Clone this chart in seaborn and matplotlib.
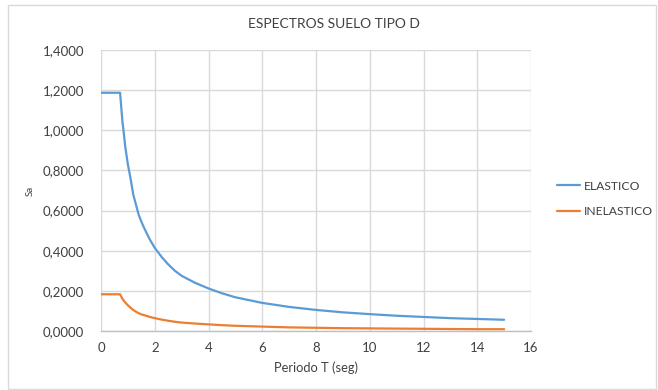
import numpy as np
import pandas as pd
import matplotlib
matplotlib.use("Agg")
import matplotlib.pyplot as plt
from matplotlib.patches import Rectangle
import seaborn as sns

# --- datos ---
periodo = [0.0, 0.71, 0.75, 0.8, 0.85, 0.9, 1.0, 1.1, 1.2, 1.3, 1.4, 1.5, 1.6,
           1.8, 2.0, 2.25, 2.5, 2.75, 3.0, 3.5, 4.0, 4.5, 5.0, 6.0, 7.0, 8.0,
           9.0, 10.0, 11.0, 12.0, 13.0, 14.0, 15.0]
sa_elastico = [1.187, 1.187, 1.12, 1.04, 0.985, 0.92, 0.83, 0.76, 0.68, 0.63,
               0.58, 0.545, 0.515, 0.46, 0.414, 0.37, 0.332, 0.30, 0.275,
               0.24, 0.212, 0.188, 0.168, 0.140, 0.120, 0.105, 0.093, 0.084,
               0.076, 0.070, 0.064, 0.060, 0.056]
sa_inelastico = [0.183, 0.183, 0.172, 0.160, 0.151, 0.142, 0.128, 0.116,
                 0.105, 0.096, 0.089, 0.083, 0.079, 0.071, 0.064, 0.057,
                 0.051, 0.046, 0.042, 0.037, 0.033, 0.029, 0.026, 0.022,
                 0.018, 0.016, 0.014, 0.013, 0.012, 0.011, 0.010, 0.009,
                 0.009]
series = ["ELASTICO", "INELASTICO"]
colores = ["#5B9BD5", "#ED7D31"]
x_ticks = [0, 2, 4, 6, 8, 10, 12, 14, 16]
y_ticks = [0.0, 0.2, 0.4, 0.6, 0.8, 1.0, 1.2, 1.4]

df = pd.concat([
    pd.DataFrame({"T": periodo, "Sa": sa_elastico, "serie": series[0]}),
    pd.DataFrame({"T": periodo, "Sa": sa_inelastico, "serie": series[1]}),
])

sns.set_theme(style="white")
plt.rcParams["font.family"] = ["Lato", "DejaVu Sans"]
texto = "#404040"

fig = plt.figure(figsize=(6.58, 3.9), dpi=100)
ax = fig.add_axes([101 / 658, 1 - 331 / 390, 430 / 658, 281 / 390])

sns.lineplot(data=df, x="T", y="Sa", hue="serie", palette=colores,
             linewidth=1.6, ax=ax, legend=True)

ax.set_xlim(0, 16)
ax.set_ylim(0, 1.4)
ax.set_xticks(x_ticks)
ax.set_yticks(y_ticks)
ax.set_xticklabels([str(t) for t in x_ticks])
ax.set_yticklabels([f"{v:.4f}".replace(".", ",") for v in y_ticks])
ax.tick_params(axis="both", length=0, labelsize=9.5, labelcolor=texto)
ax.tick_params(axis="x", pad=8)
ax.tick_params(axis="y", pad=12)
ax.grid(True, color="#D9D9D9", linewidth=1)
ax.set_axisbelow(True)
for lado in ["top", "right", "left"]:
    ax.spines[lado].set_visible(False)
ax.spines["bottom"].set_color("#BFBFBF")
ax.spines["bottom"].set_linewidth(1)

ax.set_xlabel("Periodo T (seg)", fontsize=9.3, color=texto, labelpad=5)
ax.set_ylabel("Sa", fontsize=7, color=texto, labelpad=6)
# titulo centrado en la figura, como en Excel
fig.text(334 / 658, 1 - 24 / 390, "ESPECTROS SUELO TIPO D", fontsize=10,
         color=texto, ha="center", va="center")

leg = ax.legend(loc="center left", bbox_to_anchor=(1.035, 0.47), frameon=False,
                fontsize=8.7, handlelength=1.9, handletextpad=0.35,
                labelspacing=1.2)
for t in leg.get_texts():
    t.set_color(texto)

# borde del area del grafico (estilo Excel)
fig.patches.append(Rectangle((8 / 658, 1 / 390), 648 / 658, 384 / 390,
                             transform=fig.transFigure, fill=False,
                             edgecolor="#D9D9D9", linewidth=1))

fig.savefig("out.png", dpi=100)
